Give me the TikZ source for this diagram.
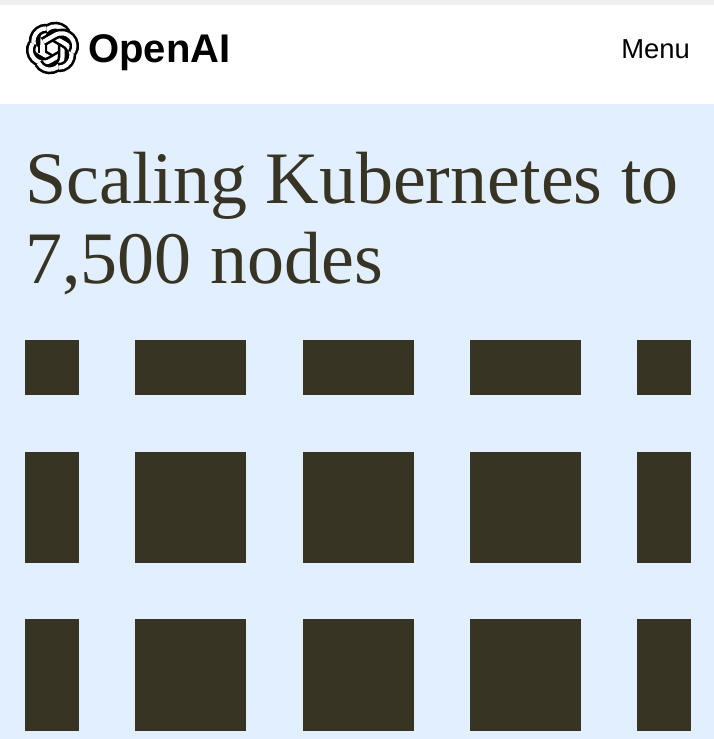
\documentclass[tikz,border=0pt]{standalone}
\usepackage{fontspec}
\setmainfont{Liberation Serif}
\newfontfamily\logofont{Liberation Sans}
\definecolor{pageblue}{HTML}{E1EFFF}
\definecolor{ink}{HTML}{383424}
\definecolor{topgrey}{HTML}{EFEFEF}
\tikzset{
  cell/.style={fill=ink,draw=none},
  title/.style={anchor=base west,inner sep=0pt,text=ink,font=\fontsize{74}{74}\selectfont},
  bandout/.style={draw=black,line width=9.4pt},
  bandin/.style={draw=white,line width=4.2pt}
}
\newcommand{\lobepath}{(-10,5) -- (-10,-8) .. controls (-10,-23) and (8,-26) .. (14,-15)}
\newcommand{\stubpath}{(-10,5) -- (-10,-3)}
\begin{document}
\begin{tikzpicture}[x=1pt,y=-1pt]
\useasboundingbox (0,0) rectangle (714,739);
\fill[white] (0,0) rectangle (714,104);
\fill[topgrey] (0,0) rectangle (714,5);
\fill[pageblue] (0,104) rectangle (714,739);
% logo
\foreach \a in {0,60,...,300}{
  \begin{scope}[shift={(52.5,48)},rotate=\a]
    \draw[bandout] \lobepath;
    \draw[bandin] \lobepath;
  \end{scope}
}
\begin{scope}[shift={(52.5,48)}]
  \draw[bandout] \stubpath;
  \draw[bandin] \stubpath;
\end{scope}
\node[anchor=base west,inner sep=0pt,font=\logofont\bfseries\fontsize{40}{40}\selectfont] (brand) at (88,62) {OpenAI};
\node[anchor=base east,inner sep=0pt,font=\logofont\fontsize{27.4}{27.4}\selectfont] (menu) at (690,58) {Menu};
\node[title] (t1) at (25,203) {Scaling Kubernetes to};
\node[title] (t2) at (25,283) {7,500 nodes};
% grid
\foreach \xa/\xb in {25/79,135/246,303/414,470/581,637/691}{
  \foreach \ya/\yb in {340/395,452/563,619/731}{
    \fill[cell] (\xa,\ya) rectangle (\xb,\yb);
  }
}
\end{tikzpicture}
\end{document}
